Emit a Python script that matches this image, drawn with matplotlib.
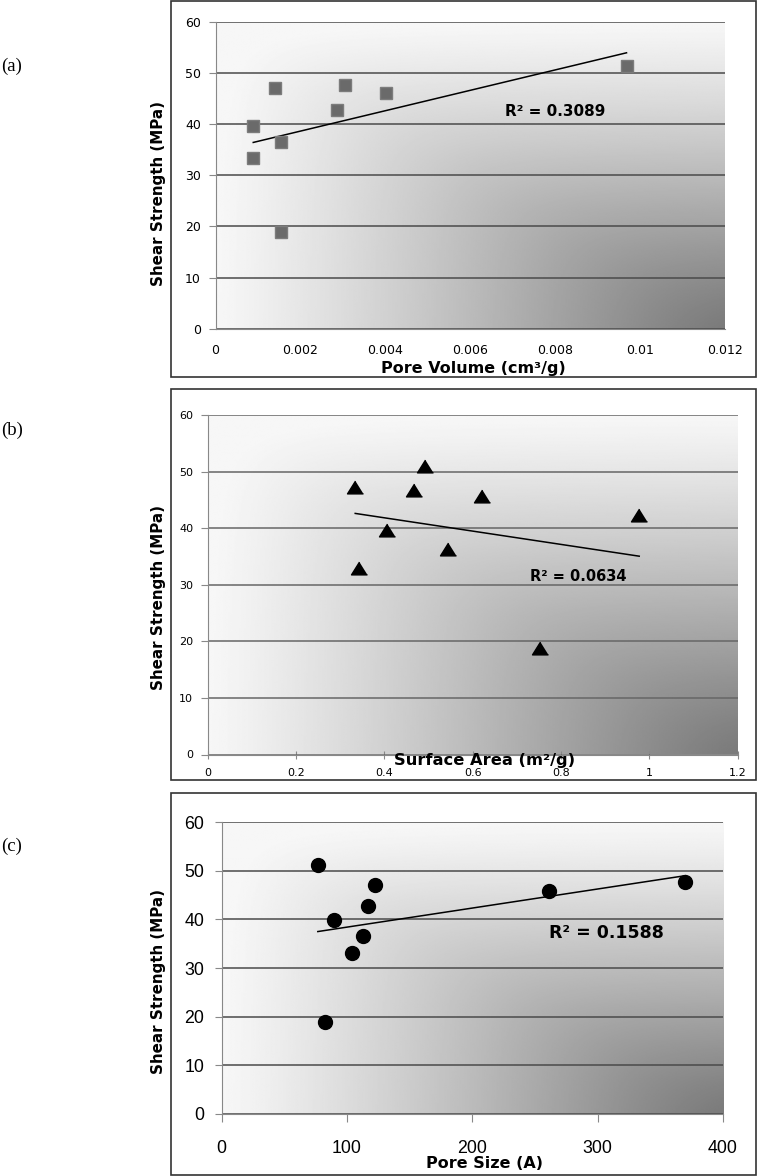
import matplotlib
matplotlib.use("Agg")
import matplotlib.pyplot as plt
import numpy as np
from matplotlib.patches import Rectangle

# shear strength samples (MPa) against three pore properties
pore_volume = [0.00089, 0.00089, 0.0014, 0.00154, 0.00154, 0.00286, 0.00305, 0.00402, 0.00969]
strength_a = [39.7, 33.3, 47.0, 36.5, 18.9, 42.8, 47.6, 46.0, 51.4]

surface_area = [0.334, 0.342, 0.405, 0.466, 0.493, 0.545, 0.620, 0.752, 0.977]
strength_b = [47.3, 33.0, 39.6, 46.8, 51.0, 36.3, 45.6, 18.8, 42.4]

pore_size = [76.7, 82.1, 89.8, 104.0, 112.9, 116.8, 122.2, 260.9, 369.9]
strength_c = [51.2, 18.8, 39.8, 33.2, 36.6, 42.8, 47.0, 45.8, 47.7]

r2_text = ["R\u00b2 = 0.3089", "R\u00b2 = 0.0634", "R\u00b2 = 0.1588"]
xticks_a = [0, 0.002, 0.004, 0.006, 0.008, 0.01, 0.012]
xlabels_a = ["0", "0.002", "0.004", "0.006", "0.008", "0.01", "0.012"]
xticks_b = [0, 0.2, 0.4, 0.6, 0.8, 1.0, 1.2]
xlabels_b = ["0", "0.2", "0.4", "0.6", "0.8", "1", "1.2"]
xticks_c = [0, 100, 200, 300, 400]
yticks = [0, 10, 20, 30, 40, 50, 60]

W, H = 757, 1176
fig = plt.figure(figsize=(W / 100, H / 100), dpi=100)


def rect(x0, y0, x1, y1):
    # pixel box (top-left origin) -> figure fraction
    return [x0 / W, 1 - y1 / H, (x1 - x0) / W, (y1 - y0) / H]


def shade(ax):
    # excel-like "from corner" fill: light top/left, dark bottom-right
    u = np.linspace(0, 1, 300)
    U, V = np.meshgrid(u, u)
    eps = 0.18
    t = (U + V - np.sqrt((U - V) ** 2 + eps ** 2)) / 2
    t = np.clip(t, 0, 1) ** 1.15
    img = 0.965 - 0.54 * t
    ax.imshow(img, cmap="gray", vmin=0, vmax=1, extent=[0, 1, 0, 1],
              transform=ax.transAxes, aspect="auto", zorder=0,
              interpolation="bilinear")


def setup(ax, xlim, grid_color):
    shade(ax)
    ax.set_xlim(*xlim)
    ax.set_ylim(0, 60)
    ax.set_yticks(yticks)
    ax.set_axisbelow(True)
    ax.yaxis.grid(True, color=grid_color, lw=1.1)
    for s in ["top", "right"]:
        ax.spines[s].set_visible(False)
    for s in ["left", "bottom"]:
        ax.spines[s].set_color("#888888")
    ax.tick_params(axis="y", direction="out", length=5, color="#888888")


def trend(ax, x, y):
    coef = np.polyfit(x, y, 1)
    xx = np.array([min(x), max(x)])
    ax.plot(xx, np.polyval(coef, xx), color="black", lw=1.1, zorder=2)


# outer frames
for box in [(171, 0.5, 756, 376.5), (171, 389, 756, 780), (171, 793, 756, 1174.5)]:
    fig.patches.append(Rectangle((box[0] / W, 1 - box[3] / H), (box[2] - box[0]) / W,
                                 (box[3] - box[1]) / H, transform=fig.transFigure,
                                 fill=False, edgecolor="#333333", lw=1.2))

serif = ["Liberation Serif", "DejaVu Serif"]
fig.text(0.001, 1 - 66 / H, "(a)", family=serif, fontsize=13.5, va="center")
fig.text(0.001, 1 - 430 / H, "(b)", family=serif, fontsize=13.5, va="center")
fig.text(0.001, 1 - 846 / H, "(c)", family=serif, fontsize=13.5, va="center")

# (a) pore volume
ax1 = fig.add_axes(rect(215.5, 21.7, 724.5, 328.7))
setup(ax1, (0, 0.012), "#4a4a4a")
ax1.plot(pore_volume, strength_a, "s", ms=8.6, color="#6a6a6a", mec="#7c7c7c", zorder=3)
trend(ax1, pore_volume, strength_a)
ax1.set_xticks(xticks_a)
ax1.set_xticklabels(xlabels_a)
ax1.tick_params(axis="x", length=0, pad=11, labelsize=9)
ax1.tick_params(axis="y", pad=5.5, labelsize=9)
ax1.text(0.569, 0.706, r2_text[0], transform=ax1.transAxes, fontsize=11,
         fontweight="bold", va="center")
fig.text(159 / W, 1 - 193 / H, "Shear Strength (MPa)", rotation=90, ha="center",
         va="center", fontsize=10.9, fontweight="bold")
fig.text(473 / W, 1 - 368 / H, "Pore Volume (cm\u00b3/g)", ha="center", va="center",
         fontsize=11.5, fontweight="bold")

# (b) surface area
ax2 = fig.add_axes(rect(207.7, 415, 737.7, 754.5))
setup(ax2, (0, 1.2), "#666666")
tri = [(0, 0.8), (-1, -0.8), (1, -0.8)]
ax2.plot(surface_area, strength_b, linestyle="none", marker=tri, ms=11.5,
         color="black", zorder=3)
trend(ax2, surface_area, strength_b)
ax2.set_xticks(xticks_b)
ax2.set_xticklabels(xlabels_b)
ax2.tick_params(axis="x", direction="inout", length=6, color="#888888", pad=7, labelsize=8)
ax2.tick_params(axis="y", pad=5.5, labelsize=8)
ax2.text(0.608, 0.524, r2_text[1], transform=ax2.transAxes, fontsize=10.5,
         fontweight="bold", va="center")
fig.text(159 / W, 1 - 597.5 / H, "Shear Strength (MPa)", rotation=90, ha="center",
         va="center", fontsize=10.9, fontweight="bold")
fig.text(485 / W, 1 - 760 / H, "Surface Area (m\u00b2/g)", ha="center", va="center",
         fontsize=11.7, fontweight="bold", zorder=5)

# (c) pore size
ax3 = fig.add_axes(rect(221.7, 822.3, 723, 1113.8))
setup(ax3, (0, 400), "#4a4a4a")
ax3.plot(pore_size, strength_c, "o", ms=10, color="black", zorder=3)
trend(ax3, pore_size, strength_c)
ax3.set_xticks(xticks_c)
ax3.tick_params(axis="x", direction="out", length=6, color="#888888", pad=13)
ax3.tick_params(axis="y", pad=7.5)
for lab in ax3.get_xticklabels() + ax3.get_yticklabels():
    lab.set_family(["Liberation Sans", "DejaVu Sans"])
    lab.set_fontsize(12.8)
ax3.text(0.653, 0.621, r2_text[2], transform=ax3.transAxes, fontsize=12.5,
         fontweight="bold", va="center")
fig.text(159 / W, 1 - 981 / H, "Shear Strength (MPa)", rotation=90, ha="center",
         va="center", fontsize=10.9, fontweight="bold")
fig.text(484 / W, 1 - 1163 / H, "Pore Size (A)", ha="center", va="center",
         fontsize=11.5, fontweight="bold")

fig.savefig("out.png", dpi=100)
